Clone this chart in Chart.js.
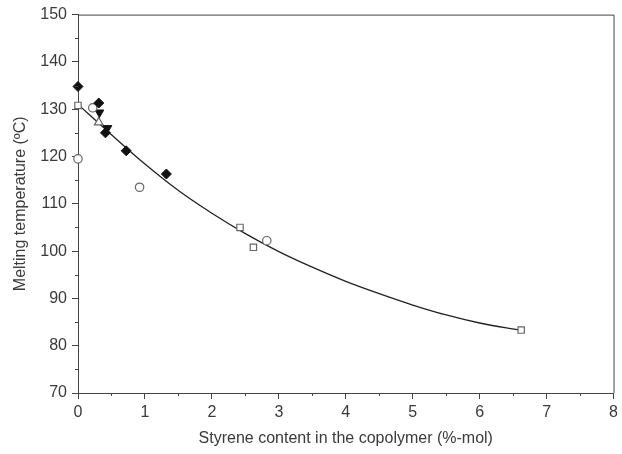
<!DOCTYPE html>
<html>
<head>
<meta charset="utf-8">
<script src="https://cdn.jsdelivr.net/npm/chart.js@4"></script>
<style>
  html, body { margin: 0; padding: 0; background: #fff; }
  #wrap { width: 622px; height: 454px; }
</style>
</head>
<body>
<div id="wrap"><canvas id="chart" width="622" height="454"></canvas></div>
<script>
// valores
const diamondX = [0, 0.31, 0.41, 0.72, 1.32];
const diamondY = [134.8, 131.3, 125.0, 121.2, 116.3];
const circleX = [0, 0.22, 0.92, 2.82];
const circleY = [119.5, 130.3, 113.5, 102.2];
const squareX = [0, 2.42, 2.62, 6.62];
const squareY = [130.8, 105.0, 100.8, 83.3];
const triDownX = [0.32, 0.44];
const triDownY = [129.3, 126.0];
const triUpX = [0.31];
const triUpY = [127.2];

// curva ajustada
const fitX = [0, 0.5, 1, 1.5, 2, 2.5, 3, 3.5, 4, 4.5, 5, 5.5, 6, 6.6];
const fitY = [131, 124.6, 118.4, 112.8, 108.0, 103.7, 99.9, 96.6, 93.6, 91.0, 88.6, 86.5, 84.8, 83.3];

const xTicks = [0, 1, 2, 3, 4, 5, 6, 7, 8];
const yTicks = [70, 80, 90, 100, 110, 120, 130, 140, 150];

const toPoints = (xs, ys) => xs.map((x, i) => ({ x: x, y: ys[i] }));

const TEXT = '#3a3a3a';
const AXIS = '#444';
const FONT = "'Liberation Sans', Arial, sans-serif";

// ticks menores e moldura
const frameAndMinorTicks = {
  id: 'frameAndMinorTicks',
  afterDraw(chart) {
    const { ctx, chartArea: a, scales } = chart;
    ctx.save();
    ctx.strokeStyle = AXIS;
    ctx.lineWidth = 1;
    ctx.beginPath();
    ctx.moveTo(a.left, a.top + 0.5);
    ctx.lineTo(a.right + 0.5, a.top + 0.5);
    ctx.lineTo(a.right + 0.5, a.bottom);
    ctx.stroke();
    ctx.beginPath();
    for (let v = 0.5; v < 8; v += 1) {
      const px = Math.round(scales.x.getPixelForValue(v)) + 0.5;
      ctx.moveTo(px, a.bottom);
      ctx.lineTo(px, a.bottom + 3);
    }
    for (let v = 75; v < 150; v += 10) {
      const py = Math.round(scales.y.getPixelForValue(v)) + 0.5;
      ctx.moveTo(a.left, py);
      ctx.lineTo(a.left - 3, py);
    }
    ctx.stroke();
    ctx.restore();
  }
};

const openStyle = {
  backgroundColor: '#fff',
  borderColor: '#666',
  borderWidth: 1.2,
  clip: false
};

new Chart(document.getElementById('chart'), {
  type: 'scatter',
  data: {
    datasets: [
      {
        type: 'line',
        label: 'fit',
        data: toPoints(fitX, fitY),
        borderColor: '#222',
        borderWidth: 1.3,
        pointRadius: 0,
        fill: false,
        cubicInterpolationMode: 'monotone',
        order: 10
      },
      {
        label: 'diamonds',
        data: toPoints(diamondX, diamondY),
        pointStyle: 'rectRot',
        pointRadius: 5,
        backgroundColor: '#111',
        borderColor: '#111',
        borderWidth: 1,
        clip: false
      },
      Object.assign({
        label: 'circles',
        data: toPoints(circleX, circleY),
        pointStyle: 'circle',
        pointRadius: 4.2
      }, openStyle),
      Object.assign({
        label: 'squares',
        data: toPoints(squareX, squareY),
        pointStyle: 'rect',
        pointRadius: 4.5
      }, openStyle),
      {
        label: 'triDown',
        data: toPoints(triDownX, triDownY),
        pointStyle: 'triangle',
        rotation: 180,
        pointRadius: 5,
        backgroundColor: '#111',
        borderColor: '#111',
        borderWidth: 1,
        clip: false
      },
      Object.assign({
        label: 'triUp',
        data: toPoints(triUpX, triUpY),
        pointStyle: 'triangle',
        pointRadius: 5
      }, openStyle)
    ]
  },
  options: {
    responsive: false,
    animation: false,
    layout: { padding: { top: 14, right: 7, left: 0, bottom: 6 } },
    plugins: {
      legend: { display: false },
      tooltip: { enabled: false }
    },
    scales: {
      x: {
        type: 'linear',
        min: 0,
        max: 8,
        afterBuildTicks: (scale) => { scale.ticks = xTicks.map(v => ({ value: v })); },
        afterFit: (scale) => { scale.height = 55; },
        border: { color: AXIS, width: 1 },
        grid: { drawOnChartArea: false, tickLength: 6, color: AXIS },
        ticks: { color: TEXT, font: { family: FONT, size: 16 }, padding: 4, maxRotation: 0 },
        title: {
          display: true,
          text: 'Styrene content in the copolymer (%-mol)',
          color: TEXT,
          font: { family: FONT, size: 16 },
          padding: { top: 6, bottom: 0 }
        }
      },
      y: {
        type: 'linear',
        min: 70,
        max: 150,
        afterBuildTicks: (scale) => { scale.ticks = yTicks.map(v => ({ value: v })); },
        afterFit: (scale) => { scale.width = 78; },
        border: { color: AXIS, width: 1 },
        grid: { drawOnChartArea: false, tickLength: 6, color: AXIS },
        ticks: { color: TEXT, font: { family: FONT, size: 16 }, padding: 5 },
        title: {
          display: true,
          text: 'Melting temperature (ºC)',
          color: TEXT,
          font: { family: FONT, size: 16 },
          padding: { top: 11, bottom: 0 }
        }
      }
    }
  },
  plugins: [frameAndMinorTicks]
});
</script>
</body>
</html>
